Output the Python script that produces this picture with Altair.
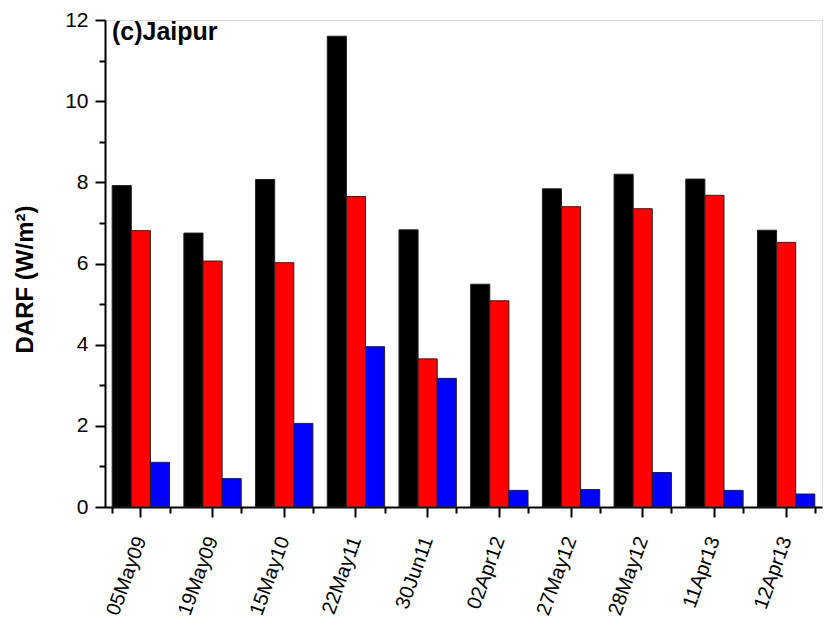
import altair as alt
import pandas as pd

dates = ["05May09", "19May09", "15May10", "22May11", "30Jun11",
         "02Apr12", "27May12", "28May12", "11Apr13", "12Apr13"]
series_names = ["Series 1", "Series 2", "Series 3"]
series_colors = ["#000000", "#ff0000", "#0000ff"]
black_vals = [7.92, 6.75, 8.07, 11.6, 6.83, 5.49, 7.84, 8.2, 8.08, 6.82]
red_vals = [6.81, 6.06, 6.02, 7.65, 3.65, 5.08, 7.4, 7.35, 7.68, 6.52]
blue_vals = [1.1, 0.7, 2.06, 3.95, 3.17, 0.41, 0.43, 0.85, 0.41, 0.32]
y_ticks = list(range(0, 13))
panel_label = "(c)Jaipur"

rows = []
for name, vals in zip(series_names, [black_vals, red_vals, blue_vals]):
    for d, v in zip(dates, vals):
        rows.append({"date": d, "series": name, "darf": v})
df = pd.DataFrame(rows)

FONT = "Liberation Sans"

x_enc = alt.X(
    "date:N", sort=dates,
    scale=alt.Scale(paddingInner=0.2, paddingOuter=0.1),
    axis=alt.Axis(
        title=None, labelAngle=-70, labelAlign="right", labelBaseline="middle",
        labelFontSize=20, labelFont=FONT, labelColor="black", labelPadding=20,
        tickSize=10, tickWidth=2, tickColor="black",
        domainWidth=2, domainColor="black", orient="bottom",
    ),
)

y_axis = alt.Axis(
    title="DARF (W/m²)", titleFontSize=24, titleFont=FONT, titleFontWeight="bold",
    titleColor="black", titleX=-80, titleY=259, titleAlign="center",
    titleBaseline="middle", titleAngle=-90,
    values=y_ticks,
    labelExpr="datum.value % 2 == 0 ? datum.label : ''",
    labelFontSize=21, labelFont=FONT, labelColor="black", labelPadding=7,
    tickSize={"condition": {"test": "datum.value % 2 == 0", "value": 10}, "value": 6},
    tickWidth=2, tickColor="black",
    domainWidth=2, domainColor="black", grid=False,
)
y_enc = alt.Y("darf:Q", scale=alt.Scale(domain=[0, 12], nice=False), axis=y_axis)

bars = alt.Chart(df).mark_bar(stroke="#222222", strokeWidth=1).encode(
    x=x_enc,
    xOffset=alt.XOffset("series:N", sort=series_names),
    y=y_enc,
    color=alt.Color("series:N", scale=alt.Scale(domain=series_names, range=series_colors), legend=None),
)

minor = alt.Chart(df).mark_bar(opacity=0).encode(
    x=alt.X(
        "date:N", sort=dates,
        axis=alt.Axis(
            title=None, labels=False, domain=False, tickBand="extent",
            tickSize=6, tickWidth=2, tickColor="black", orient="bottom",
        ),
    ),
    y=alt.Y("darf:Q", scale=alt.Scale(domain=[0, 12], nice=False), axis=y_axis),
)

label = alt.Chart(pd.DataFrame({"t": [panel_label]})).mark_text(
    align="left", baseline="alphabetic", fontSize=25, fontWeight="bold", font=FONT, color="black"
).encode(text="t:N", x=alt.value(7), y=alt.value(20))

chart = alt.layer(bars, minor, label).resolve_axis(x="independent", y="shared").properties(
    width=717, height=487,
    autosize=alt.AutoSizeParams(type="none"),
    padding={"left": 97, "top": 12, "right": 6, "bottom": 112},
).configure_view(strokeWidth=0, stroke="transparent").configure(background="white")

chart.save("out.html", embed_options={"renderer": "svg", "actions": False})
